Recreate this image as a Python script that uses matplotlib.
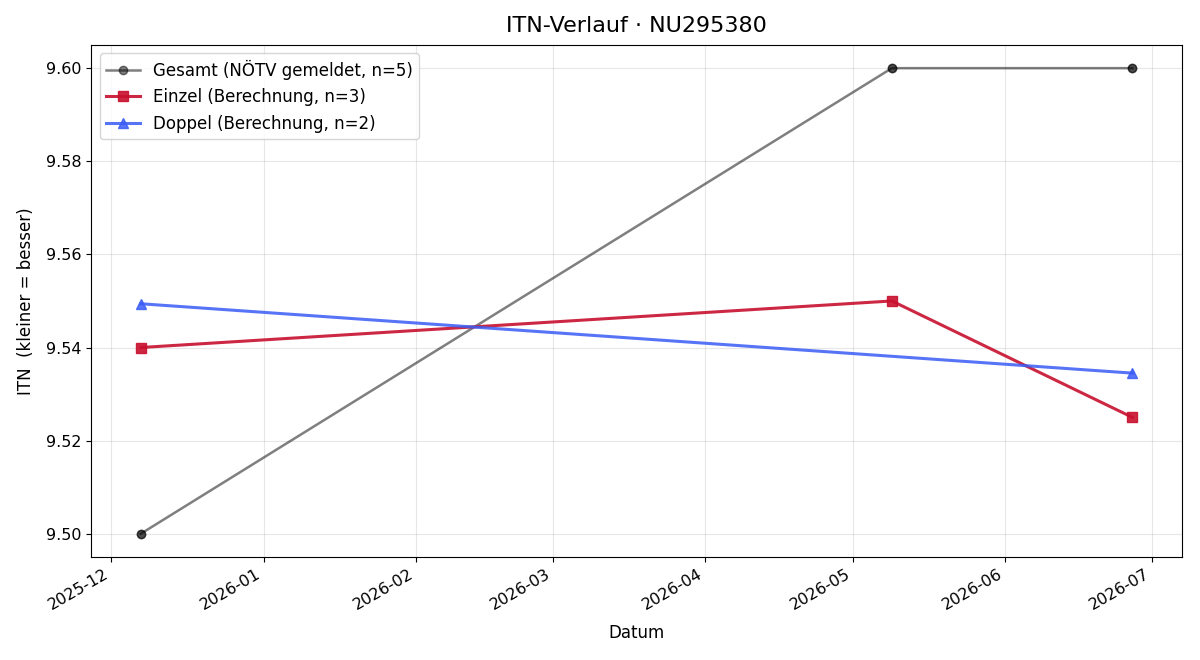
import matplotlib
matplotlib.use("Agg")
import matplotlib.pyplot as plt
import matplotlib.dates as mdates
import pandas as pd

# Daten
gesamt_datum = pd.to_datetime(["2025-12-07", "2026-05-09", "2026-06-27"])
gesamt_itn = [9.50, 9.60, 9.60]

einzel_datum = pd.to_datetime(["2025-12-07", "2026-05-09", "2026-06-27"])
einzel_itn = [9.540, 9.550, 9.525]

doppel_datum = pd.to_datetime(["2025-12-07", "2026-06-27"])
doppel_itn = [9.5494, 9.5345]

fig, ax = plt.subplots(figsize=(12, 6.6), dpi=100)

ax.plot(gesamt_datum, gesamt_itn, color="black", alpha=0.5, marker="o",
        markersize=6, linewidth=1.8, label="Gesamt (NÖTV gemeldet, n=5)")
# überlagerte Punkte (mehrere Meldungen pro Datum)
ax.plot(gesamt_datum, gesamt_itn, color="black", alpha=0.4, marker="o",
        markersize=6, linestyle="none")
ax.plot(einzel_datum, einzel_itn, color="#c8102e", alpha=0.9, marker="s",
        markersize=7, linewidth=2.2, label="Einzel (Berechnung, n=3)")
ax.plot(doppel_datum, doppel_itn, color="#3a5cf5", alpha=0.85, marker="^",
        markersize=7, linewidth=2.2, label="Doppel (Berechnung, n=2)")

ax.set_title("ITN-Verlauf · NU295380", fontsize=16, pad=9)
ax.set_xlabel("Datum", fontsize=12, labelpad=8)
ax.set_ylabel("ITN  (kleiner = besser)", fontsize=12, labelpad=8)
ax.grid(True, alpha=0.3)
ax.xaxis.set_major_locator(mdates.MonthLocator())
ax.xaxis.set_major_formatter(mdates.DateFormatter("%Y-%m"))
ax.tick_params(labelsize=11.5)
ax.legend(loc="upper left", fontsize=12)
fig.autofmt_xdate()

fig.subplots_adjust(left=0.076, right=0.985, top=0.932, bottom=0.156)
plt.savefig("out.png")
